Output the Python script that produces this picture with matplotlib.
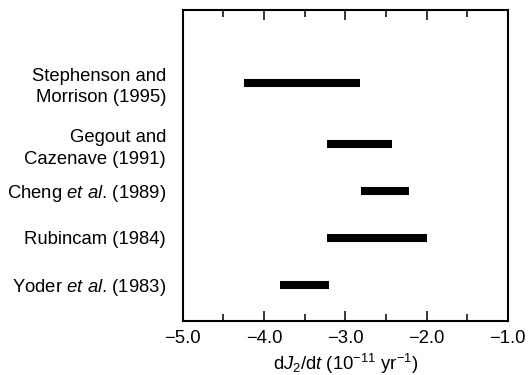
import matplotlib
matplotlib.use("Agg")
import matplotlib.pyplot as plt
from matplotlib.ticker import MultipleLocator

plt.rcParams['font.family'] = ['Liberation Sans', 'DejaVu Sans']
plt.rcParams['mathtext.fontset'] = 'custom'
plt.rcParams['mathtext.rm'] = 'Liberation Sans'
plt.rcParams['mathtext.it'] = 'Liberation Sans:italic'
plt.rcParams['mathtext.bf'] = 'Liberation Sans:bold'

# Published estimates of dJ2/dt (units of 1e-11 per year): lower and upper bounds
studies = [
    "Stephenson and\nMorrison (1995)",
    "Gegout and\nCazenave (1991)",
    r"Cheng $\it{et\ al}$. (1989)",
    "Rubincam (1984)",
    r"Yoder $\it{et\ al}$. (1983)",
]
lower = [-4.25, -3.22, -2.81, -3.22, -3.80]
upper = [-2.82, -2.42, -2.21, -2.00, -3.20]
row_pos = [5.3, 4.0, 3.0, 2.0, 1.0]

x_ticks = [-5.0, -4.0, -3.0, -2.0, -1.0]
x_tick_labels = ["\u22125.0", "\u22124.0", "\u22123.0", "\u22122.0", "\u22121.0"]

FS = 13.3

fig = plt.figure(figsize=(5.3, 3.75), dpi=100)
ax = fig.add_axes([0.345, 0.144, 0.613, 0.829])

ax.hlines(row_pos, lower, upper, colors="black", linewidth=5.8, capstyle="butt")

ax.set_xlim(-5.0, -1.0)
ax.set_ylim(0.23, 6.85)
ax.set_xticks(x_ticks)
ax.set_xticklabels(x_tick_labels, fontsize=FS)
ax.xaxis.set_minor_locator(MultipleLocator(0.5))
ax.tick_params(axis="x", which="major", direction="in", length=7, width=1.1,
               top=True, bottom=True, pad=6.5)
ax.tick_params(axis="x", which="minor", direction="in", length=5, width=1.1,
               top=True, bottom=True)

ax.set_yticks(row_pos)
ax.set_yticklabels(studies, fontsize=FS, linespacing=1.35)
ax.tick_params(axis="y", which="both", length=0, pad=12)

for s in ax.spines.values():
    s.set_linewidth(1.5)

ax.set_xlabel(r"d$J_2$/d$t$ (10$^{-11}$ yr$^{-1}$)", fontsize=FS, labelpad=3.5)

fig.savefig("out.png", dpi=100)
